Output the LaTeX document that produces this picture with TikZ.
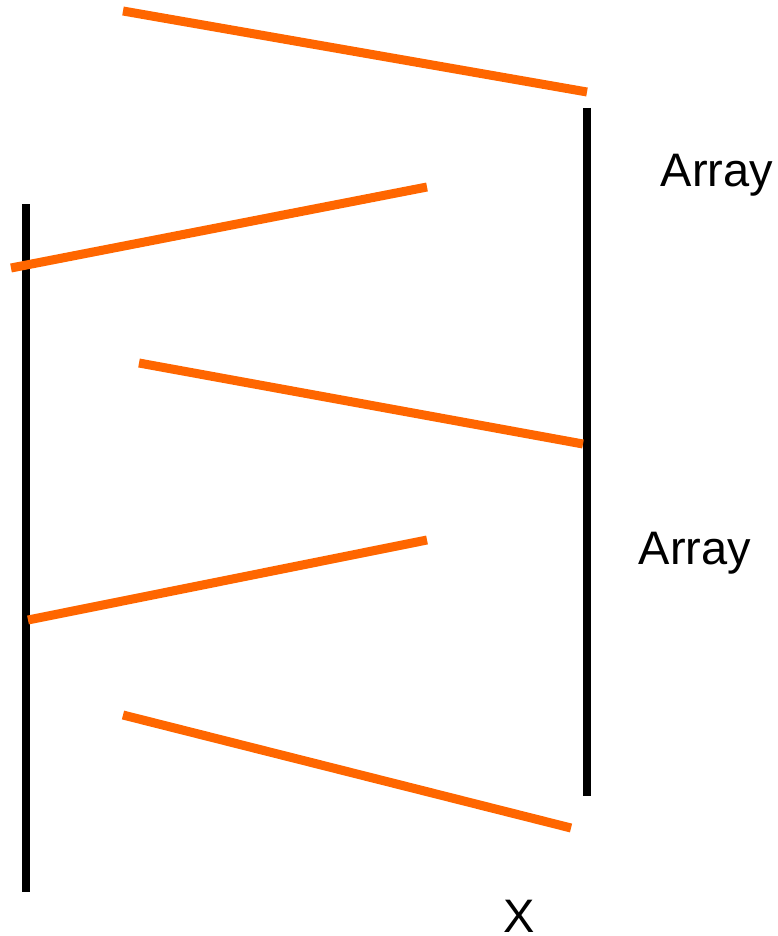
\documentclass[tikz,border=0pt]{standalone}
\usepackage{fontspec}
\setmainfont{Liberation Sans}
\definecolor{orng}{HTML}{FF6600}
\begin{document}
\begin{tikzpicture}[x=1pt,y=-1pt,
  oline/.style={draw=orng,line width=9pt},
  bline/.style={draw=black,line width=7.5pt},
  lbl/.style={font=\fontsize{47}{50}\selectfont,inner sep=0pt,anchor=base}]
\useasboundingbox (0,0) rectangle (777,936);
\coordinate (o1a) at (123,11); \coordinate (o1b) at (587,92);
\coordinate (o2a) at (11,268); \coordinate (o2b) at (427,187);
\coordinate (o3a) at (139,363); \coordinate (o3b) at (583,444);
\coordinate (o4a) at (28,620); \coordinate (o4b) at (427,540);
\coordinate (o5a) at (123,715); \coordinate (o5b) at (571,828);
\coordinate (l1) at (26,204); \coordinate (l2) at (26,892);
\coordinate (r1) at (587,108); \coordinate (r2) at (587,796);
\draw[bline] (l1) -- (l2);
\draw[bline] (r1) -- (r2);
\draw[oline] (o1a) -- (o1b);
\draw[oline] (o2a) -- (o2b);
\draw[oline] (o3a) -- (o3b);
\draw[oline] (o4a) -- (o4b);
\draw[oline] (o5a) -- (o5b);
\node[lbl] (t1) at (717,186) {Array};
\node[lbl] (t2) at (695,564) {Array};
\node[lbl] (t3) at (519,932) {X};
\end{tikzpicture}
\end{document}
